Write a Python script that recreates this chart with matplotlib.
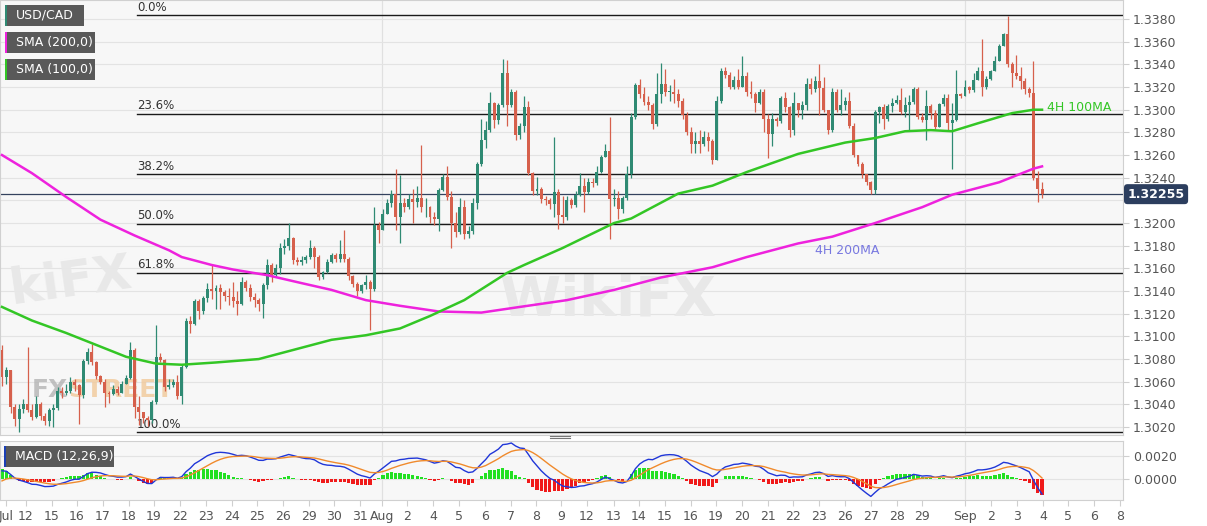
import numpy as np
import pandas as pd
import matplotlib
matplotlib.use("Agg")
import matplotlib.pyplot as plt
from matplotlib.patches import Rectangle

# USD/CAD 4H candles, values in pips above 1.3000
open0 = 88
closes = [64, 70, 38, 27, 36, 40, 35, 29, 40, 30, 25, 35, 37, 52, 50, 52, 60, 57, 48, 78,
          86, 77, 65, 60, 50, 49, 54, 50, 58, 63, 88, 38, 33, 28, 26, 42, 82, 79, 55, 57,
          60, 47, 73, 114, 111, 131, 122, 134, 142, 140, 143, 139, 136, 135, 131, 129, 148, 143, 135, 132,
          129, 145, 163, 154, 160, 178, 180, 187, 167, 166, 167, 170, 178, 170, 152, 157, 166, 172, 168, 173,
          168, 153, 146, 140, 145, 148, 142, 198, 194, 208, 218, 226, 205, 218, 214, 221, 219, 222, 214, 214,
          205, 204, 229, 241, 223, 200, 192, 214, 190, 193, 218, 252, 273, 282, 306, 291, 304, 332, 304, 316,
          278, 286, 302, 244, 228, 230, 221, 220, 217, 227, 207, 205, 220, 216, 225, 233, 227, 236, 235, 245,
          258, 264, 221, 222, 212, 222, 243, 294, 322, 314, 307, 304, 287, 314, 323, 316, 316, 314, 308, 295,
          280, 270, 272, 270, 276, 272, 256, 308, 334, 331, 320, 326, 320, 330, 316, 314, 306, 316, 292, 279,
          292, 290, 310, 302, 282, 306, 300, 304, 323, 318, 325, 319, 300, 282, 316, 300, 304, 308, 286, 260,
          252, 243, 236, 229, 298, 302, 292, 303, 306, 309, 298, 304, 307, 318, 294, 291, 303, 297, 285, 305,
          310, 288, 291, 314, 312, 320, 317, 326, 334, 320, 327, 334, 343, 356, 367, 340, 332, 330, 325, 318,
          315, 240, 230, 225.5]
highs = [92, 73, 70, 40, 40, 45, 91, 40, 47, 42, 32, 37, 40, 55, 55, 58, 64, 62, 58, 80,
         90, 93, 78, 66, 62, 52, 57, 56, 61, 66, 95, 90, 47, 33, 30, 44, 110, 85, 80, 62,
         62, 66, 75, 116, 118, 133, 133, 136, 147, 164, 145, 146, 141, 143, 148, 140, 152, 150, 146, 138,
         134, 147, 168, 165, 164, 182, 186, 200, 188, 170, 171, 172, 185, 180, 172, 158, 168, 174, 174, 185,
         194, 170, 154, 148, 146, 154, 150, 214, 201, 212, 221, 229, 248, 242, 222, 226, 230, 233, 269, 222,
         215, 210, 231, 243, 250, 228, 210, 222, 220, 197, 222, 254, 292, 290, 316, 307, 306, 345, 344, 318,
         317, 288, 312, 308, 245, 241, 232, 224, 222, 276, 230, 224, 224, 222, 228, 244, 240, 240, 240, 250,
         260, 270, 294, 230, 228, 224, 250, 297, 324, 327, 320, 312, 306, 332, 341, 336, 322, 327, 318, 310,
         298, 285, 280, 282, 281, 280, 274, 312, 337, 338, 333, 330, 336, 347, 333, 325, 316, 318, 318, 296,
         297, 294, 312, 316, 303, 316, 306, 308, 328, 328, 330, 340, 329, 294, 319, 318, 318, 311, 316, 288,
         258, 254, 242, 237, 300, 303, 305, 305, 310, 313, 319, 311, 313, 320, 320, 297, 317, 305, 300, 306,
         314, 314, 306, 335, 315, 326, 321, 332, 338, 362, 330, 335, 347, 358, 368, 383, 342, 348, 338, 328,
         320, 343, 246, 236]
lows = [56, 58, 32, 21, 16, 32, 33, 26, 28, 26, 22, 21, 20, 35, 46, 48, 50, 52, 23, 46,
        76, 75, 62, 58, 38, 41, 48, 48, 50, 58, 62, 28, 22, 24, 21, 24, 40, 77, 52, 54,
        55, 45, 40, 72, 103, 110, 115, 120, 130, 133, 124, 124, 131, 128, 126, 119, 128, 140, 131, 126,
        122, 116, 142, 148, 152, 155, 173, 176, 164, 163, 163, 165, 168, 160, 150, 151, 156, 165, 166, 166,
        166, 150, 144, 136, 138, 142, 106, 140, 182, 194, 208, 214, 194, 182, 210, 212, 200, 214, 210, 205,
        200, 198, 193, 228, 220, 178, 188, 190, 186, 187, 190, 212, 250, 266, 280, 284, 287, 302, 286, 302,
        273, 274, 280, 242, 225, 225, 218, 216, 212, 205, 195, 200, 203, 213, 214, 224, 210, 226, 232, 234,
        244, 258, 186, 215, 204, 209, 220, 240, 292, 310, 304, 300, 283, 286, 306, 312, 308, 306, 302, 292,
        278, 262, 262, 262, 268, 264, 252, 256, 306, 328, 318, 318, 318, 322, 312, 310, 298, 305, 280, 257,
        268, 286, 288, 298, 276, 278, 294, 292, 300, 314, 316, 295, 298, 279, 280, 298, 295, 300, 284, 258,
        250, 240, 234, 226, 226, 288, 283, 290, 298, 305, 296, 294, 282, 305, 292, 289, 273, 292, 283, 285,
        303, 282, 248, 290, 310, 312, 315, 316, 326, 312, 318, 326, 334, 343, 356, 338, 320, 327, 318, 314,
        311, 238, 219, 222]

# moving averages (bar index, pips)
sma200_bars = [0, 7, 15, 23, 31, 39, 42, 49, 54, 62, 70, 77, 85, 93, 102, 112, 121, 132, 143, 154,
               166, 174, 186, 194, 204, 215, 222, 233, 241, 243]
sma200_vals = [260, 244, 223, 203, 189, 176, 170, 163, 159, 154, 147, 141, 132, 127, 122, 121, 126, 132, 141, 152,
               161, 170, 182, 188, 200, 214, 225, 236, 248, 250]
sma100_bars = [0, 7, 15, 21, 29, 36, 42, 50, 60, 70, 77, 85, 93, 100, 108, 118, 122, 131, 143, 147,
               158, 166, 174, 186, 197, 204, 211, 217, 222, 228, 236, 241, 243]
sma100_vals = [126, 114, 103, 94, 82, 76, 75, 77, 80, 90, 97, 101, 107, 118, 132, 156, 163, 178, 200, 204,
               226, 233, 245, 261, 271, 275, 281, 282, 281, 288, 297, 300, 300]

# MACD state at the first bar
macd_start = -0.0008
signal_start = -0.0004

fib_high = 1.33835
fib_low = 1.30155
fib_ratios = [0.0, 0.236, 0.382, 0.5, 0.618, 1.0]
last_price = 1.32255

day_labels = ['Jul', '12', '15', '16', '17', '18', '19', '22', '23', '24', '25', '26', '29', '30', '31',
              'Aug', '2', '4', '5', '6', '7', '8', '9', '12', '13', '14', '15', '16', '19', '20', '21',
              '22', '23', '26', '27', '28', '29', 'Sep', '2', '3', '4', '5', '6', '8']
day_px = [6, 26, 52, 77, 103, 129, 154, 180, 206, 232, 257, 283, 309, 334, 360,
          382, 407, 433, 459, 485, 511, 536, 561, 587, 614, 639, 665, 691, 716, 742, 768,
          793, 819, 845, 871, 897, 922, 965, 991, 1017, 1043, 1068, 1094, 1120]

# ---- prepare
c = 1.3 + np.array(closes) / 10000
o = np.concatenate([[1.3 + open0 / 10000], c[:-1]])
h = np.maximum(1.3 + np.array(highs) / 10000, np.maximum(o, c))
l = np.minimum(1.3 + np.array(lows) / 10000, np.minimum(o, c))
n = len(c)
idx = np.arange(n)

# MACD (12,26,9)
e12 = c[0] - macd_start / 2
e26 = c[0] + macd_start / 2
sig = signal_start
macd, signal = [], []
for price in c:
    e12 += 2 / 13 * (price - e12)
    e26 += 2 / 27 * (price - e26)
    m = e12 - e26
    sig += 2 / 10 * (m - sig)
    macd.append(m)
    signal.append(sig)
macd = np.array(macd)
signal = np.array(signal)
hist = macd - signal

W, H = 1207, 526
up_col = '#2f8a73'
dn_col = '#d6604c'
bg = '#f7f7f7'
grid_col = '#e3e3e3'


def bx(px):
    # pixel column -> bar index
    return (px - 2) / 4.28


fig = plt.figure(figsize=(W / 100, H / 100), dpi=100)
fig.patch.set_facecolor('white')
ax = fig.add_axes([0, 1 - 435 / H, 1123 / W, 435 / H])
axm = fig.add_axes([0, 1 - 500.3 / H, 1123 / W, 59 / H])

xmin, xmax = bx(0), bx(1123)
tick_pos = [bx(p) for p in day_px]

for a in (ax, axm):
    a.set_facecolor(bg)
    a.set_xlim(xmin, xmax)
    for s in a.spines.values():
        s.set_color('#d0d0d0')
        s.set_linewidth(0.8)
    a.yaxis.tick_right()
    a.tick_params(axis='y', colors='#cfcfcf', labelcolor='#555555', labelsize=9, length=4, pad=3)
    for lab in ('Aug', 'Sep'):
        a.axvline(tick_pos[day_labels.index(lab)], color='#e0e0e0', lw=0.9, zorder=0)

# main price panel
ax.set_ylim(1.30130, 1.33968)
yt = np.round(np.arange(1.3020, 1.33801, 0.002), 4)
ax.set_yticks(yt)
# 1.3220 sits under the price tag
ax.set_yticklabels(['' if abs(v - 1.322) < 1e-6 else '%.4f' % v for v in yt])
ax.tick_params(axis='x', bottom=False, labelbottom=False)
for v in yt:
    ax.axhline(v, color=grid_col, lw=0.8, zorder=0)

# watermarks
ax.text(bx(608), 1.3132, 'WikiFX', fontsize=40, fontweight='bold',
        color='#e8e8e8', ha='center', va='center', zorder=0.5)
ax.text(bx(6), 1.3148, 'kiFX', fontsize=36, fontweight='bold', color='#e8e8e8',
        ha='left', va='center', rotation=8, zorder=0.5)
ax.text(bx(68), 1.3053, 'FX', fontsize=18, fontweight='bold', color='#b4b4b4', ha='right',
        va='center', zorder=0.5, alpha=0.8)
ax.text(bx(68), 1.3053, 'STREET', fontsize=18, fontweight='bold', color='#f1c99a', ha='left',
        va='center', zorder=0.5, alpha=0.8)

# fibonacci retracement
fib_start = bx(137)
for r in fib_ratios:
    lvl = fib_high - r * (fib_high - fib_low)
    ax.plot([fib_start, xmax], [lvl, lvl], color='#1a1a1a', lw=1.0, zorder=2)
    ax.text(fib_start, lvl + 0.00012, '%.1f%%' % (r * 100), fontsize=8.5, color='#333333',
            ha='left', va='bottom', zorder=2)

# last price line
ax.axhline(last_price, color='#34425e', lw=0.9, zorder=2)

# candles
cols = np.where(c >= o, up_col, dn_col)
ax.vlines(idx, l, h, colors=cols, lw=0.9, zorder=3)
ax.bar(idx, np.maximum(np.abs(c - o), 0.00004), bottom=np.minimum(o, c), width=0.7,
       color=cols, zorder=4, linewidth=0)

# moving averages
ax.plot(sma200_bars, 1.3 + np.array(sma200_vals) / 10000, color='#ee22dd', lw=1.8, zorder=5)
ax.plot(sma100_bars, 1.3 + np.array(sma100_vals) / 10000, color='#33c625', lw=1.8, zorder=5)
ax.text(bx(815), 1.3176, '4H 200MA', fontsize=9, color='#7878e0', va='center', zorder=6)
ax.text(bx(1047), 1.3302, '4H 100MA', fontsize=9, color='#33c625', va='center', zorder=6)

# current price tag
ax.text(1.004, last_price, '1.32255', transform=ax.get_yaxis_transform(), fontsize=9,
        fontweight='bold', color='white', ha='left', va='center', clip_on=False, zorder=10,
        bbox=dict(boxstyle='round,pad=0.28', fc='#2c3e5e', ec='none'))

# MACD panel
axm.set_ylim(-0.00188, 0.0033)
axm.set_yticks([0.0, 0.002])
axm.set_yticklabels(['0.0000', '0.0020'])
for v in (0.0, 0.002):
    axm.axhline(v, color=grid_col, lw=0.8, zorder=0)
axm.bar(idx, hist, width=0.75, color=np.where(hist >= 0, '#22e022', '#f01a1a'), zorder=2, linewidth=0)
axm.plot(idx, macd, color='#2036d8', lw=1.0, zorder=3)
axm.plot(idx, signal, color='#f08a2c', lw=1.0, zorder=3)
axm.set_xticks(tick_pos)
axm.set_xticklabels(day_labels)
axm.tick_params(axis='x', colors='#cfcfcf', labelcolor='#555555', labelsize=9, length=4, pad=3)


def fig_box(x0, y0, x1, y1, text, stripe):
    fig.patches.append(Rectangle((x0 / W, 1 - y1 / H), (x1 - x0) / W, (y1 - y0) / H,
                                 transform=fig.transFigure, fc='#595959', ec='none', zorder=20))
    fig.patches.append(Rectangle((x0 / W, 1 - y1 / H), 2 / W, (y1 - y0) / H,
                                 transform=fig.transFigure, fc=stripe, ec='none', zorder=21))
    fig.text((x0 + 11) / W, 1 - (y0 + y1) / 2 / H, text, color='white', fontsize=9,
             va='center', ha='left', zorder=22)


fig_box(5, 5, 84, 26, 'USD/CAD', '#2f8a73')
fig_box(5, 32, 95, 53, 'SMA (200,0)', '#ee22dd')
fig_box(5, 59, 95, 80, 'SMA (100,0)', '#33c625')
fig_box(4, 446, 114, 467, 'MACD (12,26,9)', '#1a3fb5')

# panel separator handle
for dy in (436, 438):
    fig.lines.append(plt.Line2D([550 / W, 570 / W], [1 - dy / H, 1 - dy / H],
                                transform=fig.transFigure, color='#777777', lw=0.8))

fig.savefig('out.png', dpi=100, facecolor='white')
